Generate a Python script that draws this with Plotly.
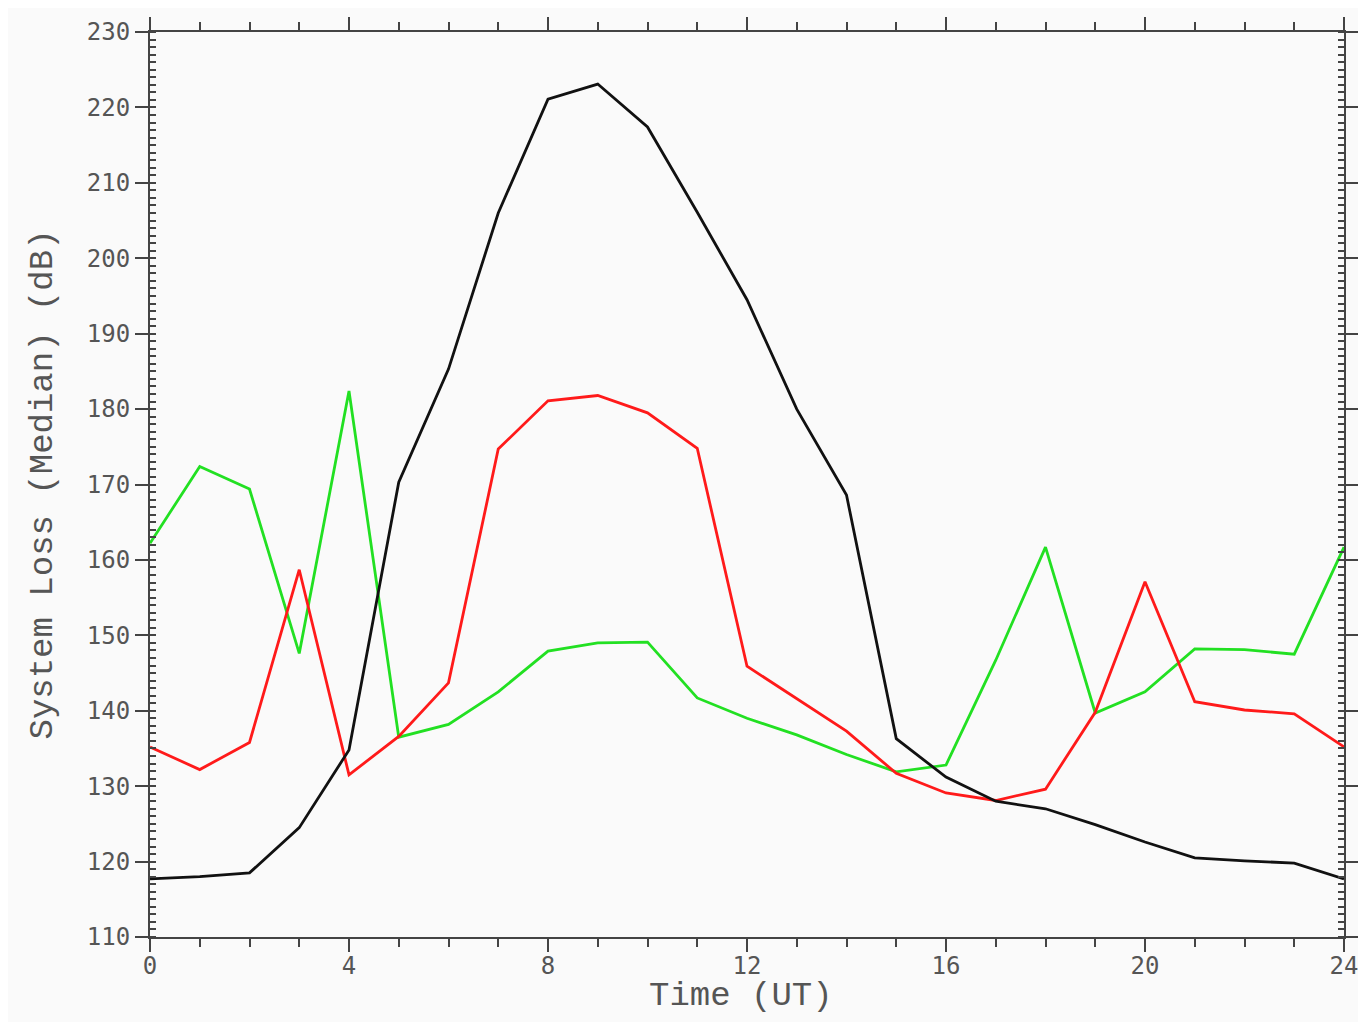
import plotly.graph_objects as go

hours = list(range(25))

black = [117.7, 118.0, 118.5, 124.5, 134.8, 170.3, 185.3, 206.0, 221.1, 223.1, 217.4, 206.1, 194.5,
         180.0, 168.6, 136.3, 131.2, 128.0, 127.0, 124.9, 122.6, 120.5, 120.1, 119.8, 117.7]
red = [135.2, 132.2, 135.8, 158.7, 131.5, 136.6, 143.7, 174.7, 181.1, 181.8, 179.5, 174.8, 145.9,
       141.6, 137.3, 131.7, 129.1, 128.1, 129.6, 139.8, 157.1, 141.2, 140.1, 139.6, 135.2]
green = [162.2, 172.4, 169.4, 147.6, 182.4, 136.5, 138.2, 142.5, 147.9, 149.0, 149.1, 141.7, 139.0,
         136.8, 134.2, 131.9, 132.8, 146.7, 161.7, 139.7, 142.5, 148.2, 148.1, 147.5, 161.7]

x_ticks = [0, 4, 8, 12, 16, 20, 24]
y_ticks = [110, 120, 130, 140, 150, 160, 170, 180, 190, 200, 210, 220, 230]

fig = go.Figure()
for vals, col in [(green, "#22e022"), (red, "#ff1a1a"), (black, "#111111")]:
    fig.add_trace(go.Scatter(x=hours, y=vals, mode="lines",
                             line=dict(color=col, width=2.8), showlegend=False))

axis_col = "#444444"
tickfont = dict(family="DejaVu Sans Mono", size=24, color="#555555")

fig.update_layout(
    width=1358, height=1014,
    margin=dict(l=142, r=22, t=24, b=85, autoexpand=False),
    paper_bgcolor="#fafafa", plot_bgcolor="#fafafa",
    xaxis=dict(range=[0, 24], tickvals=x_ticks, ticktext=[str(v) for v in x_ticks],
               automargin=False,
               showgrid=False, zeroline=False, showline=True, linecolor=axis_col, linewidth=2,
               mirror="allticks", ticks="outside", ticklen=13, tickwidth=2, tickcolor=axis_col,
               ticklabelstandoff=-7,
               minor=dict(dtick=1, tick0=0, ticks="outside", ticklen=8, tickwidth=2,
                          tickcolor=axis_col, showgrid=False),
               tickfont=tickfont),
    yaxis=dict(range=[110, 230], tickvals=y_ticks, ticktext=[str(v) for v in y_ticks],
               automargin=False,
               showgrid=False, zeroline=False, showline=True, linecolor=axis_col, linewidth=2,
               mirror="allticks", ticks="outside", ticklen=13, tickwidth=2, tickcolor=axis_col,
               minor=dict(dtick=1, tick0=110, ticks="inside", ticklen=6, tickwidth=1.5,
                          tickcolor=axis_col, showgrid=False),
               tickfont=tickfont),
    annotations=[
        dict(text="Time (UT)", xref="paper", yref="paper", x=0.495, y=0,
             xanchor="center", yanchor="top", yshift=-38, showarrow=False,
             font=dict(family="Liberation Mono", size=34, color="#555555")),
        dict(text="System Loss (Median) (dB)", xref="paper", yref="paper", x=0, y=0.5,
             xanchor="center", yanchor="middle", xshift=-108, textangle=-90, showarrow=False,
             font=dict(family="Liberation Mono", size=34, color="#555555")),
    ],
)

fig.write_html("out.html")
